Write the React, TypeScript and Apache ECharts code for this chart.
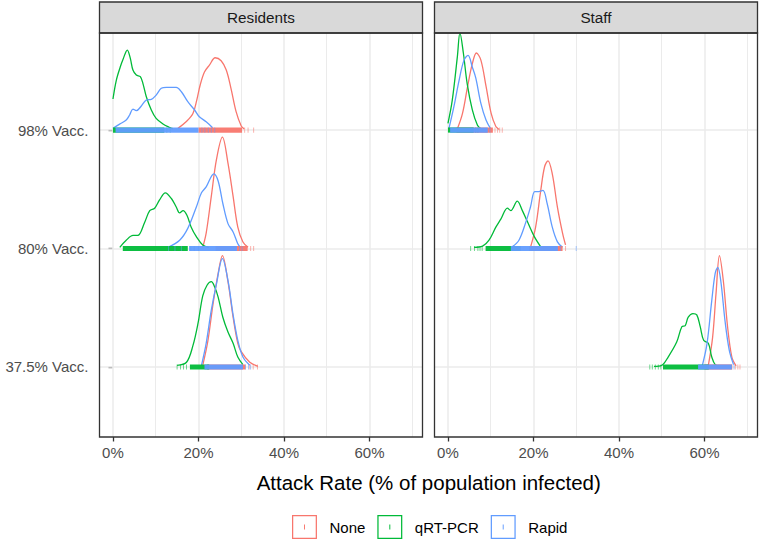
import React, { useEffect, useRef } from "react";
import * as echarts from "echarts";

// ---------- data ----------
const panels = ["Residents", "Staff"];
const categories = ["37.5% Vacc.", "80% Vacc.", "98% Vacc."]; // ridge baselines 1, 2, 3
const groups = ["None", "qRT-PCR", "Rapid"];
const groupColors = ["#F8766D", "#00BA38", "#619CFF"];
const xTickValues = [0, 20, 40, 60];
const xMinorValues = [10, 30, 50, 70];
const axisTitle = "Attack Rate (% of population infected)";

// density outlines: [attack rate %, ridge height (1 = spacing between ridges)]
const res375None = [[21, 0.014], [22.2, 0.22], [23.4, 0.53], [24.6, 0.79], [25.6, 0.94], [26.9, 0.72], [28.1, 0.42], [29.2, 0.2], [30, 0.13], [32, 0.04], [33.9, 0.005]];
const res375Pcr = [[15, 0.014], [17.2, 0.04], [18.7, 0.18], [19.9, 0.37], [21, 0.6], [22, 0.69], [23, 0.72], [23.8, 0.675], [24.6, 0.59], [25.7, 0.42], [26.9, 0.295], [28.1, 0.2], [29.2, 0.084], [30.4, 0.02]];
const res375Rapid = [[20.7, 0.014], [21.8, 0.2], [23, 0.48], [24.2, 0.7], [25.6, 0.915], [26.9, 0.73], [28.1, 0.44], [29.2, 0.225], [30.4, 0.084], [32, 0.014]];
const res80None = [[21, 0.01], [21.8, 0.13], [23, 0.44], [24.2, 0.75], [25.6, 0.94], [26.9, 0.72], [28.1, 0.44], [29.2, 0.18], [30.4, 0.055], [31.6, 0.01]];
const res80Pcr = [[1.6, 0.01], [3.1, 0.07], [4.7, 0.11], [5.8, 0.11], [7.4, 0.22], [8.6, 0.32], [9.75, 0.34], [10.9, 0.41], [12.25, 0.47], [13.7, 0.42], [14.8, 0.35], [15.6, 0.3], [16.4, 0.32], [17.3, 0.28], [18.3, 0.18], [19.5, 0.1], [21, 0.03], [22.4, 0.01]];
const res80Rapid = [[12.9, 0.01], [15.6, 0.07], [17.5, 0.17], [19.5, 0.35], [20.7, 0.47], [21.8, 0.52], [23.6, 0.63], [24.6, 0.57], [25.7, 0.38], [26.9, 0.21], [28.1, 0.14], [29.2, 0.04], [29.8, 0.01]];
const res98None = [[15.2, 0.014], [17.1, 0.07], [18.7, 0.14], [19.6, 0.253], [20.4, 0.38], [21.4, 0.49], [22.6, 0.55], [23.9, 0.61], [25.3, 0.585], [26.5, 0.506], [27.6, 0.352], [28.8, 0.155], [30, 0.034], [30.7, 0.01]];
const res98Pcr = [[0, 0.262], [0.78, 0.42], [1.72, 0.534], [2.34, 0.596], [3.36, 0.675], [4.06, 0.605], [4.67, 0.506], [5.46, 0.464], [6.4, 0.45], [7, 0.394], [7.8, 0.281], [8.97, 0.169], [10.1, 0.098], [11.7, 0.051], [13.2, 0.023], [14, 0.011]];
const res98Rapid = [[0, 0.014], [1.56, 0.05], [3.1, 0.084], [3.9, 0.127], [4.67, 0.177], [5.46, 0.163], [6.63, 0.203], [7.8, 0.253], [8.97, 0.259], [10.1, 0.295], [11.3, 0.352], [12.5, 0.36], [14.8, 0.36], [16, 0.323], [17.5, 0.239], [19.1, 0.169], [20.2, 0.112], [21.8, 0.07], [23.3, 0.02]];

const stf375None = [[60.9, 0.014], [61.9, 0.25], [62.7, 0.62], [63.5, 0.94], [64.4, 0.73], [65.4, 0.34], [66.4, 0.084], [67.4, 0.01]];
const stf375Pcr = [[48.2, 0.005], [50, 0.014], [51.5, 0.084], [53.5, 0.21], [54.7, 0.34], [55.5, 0.35], [56.2, 0.42], [57.3, 0.45], [58.2, 0.44], [59, 0.34], [59.8, 0.225], [60.9, 0.2], [61.7, 0.084], [62.5, 0.02], [63.5, 0.01]];
const stf375Rapid = [[59.5, 0.014], [60.6, 0.2], [61.7, 0.56], [62.5, 0.79], [63.1, 0.84], [63.8, 0.73], [64.8, 0.39], [65.8, 0.14], [66.8, 0.02]];
const stf80None = [[19.3, 0.01], [20.5, 0.18], [21.7, 0.49], [22.6, 0.69], [23.4, 0.74], [24.4, 0.63], [25.6, 0.35], [26.8, 0.13], [27.5, 0.03]];
const stf80Pcr = [[6.1, 0.01], [8.1, 0.02], [9.6, 0.07], [11.2, 0.18], [12.4, 0.25], [13.9, 0.34], [14.7, 0.32], [16.2, 0.4], [17.4, 0.32], [18.6, 0.225], [20.2, 0.1], [21.7, 0.014]];
const stf80Rapid = [[15, 0.014], [16.6, 0.07], [18.1, 0.21], [19.3, 0.35], [20.3, 0.48], [21.2, 0.48], [22.2, 0.49], [23.2, 0.38], [24.4, 0.18], [25.6, 0.056], [26.8, 0.01]];
const stf98None = [[2.2, 0.01], [3.4, 0.14], [4.6, 0.37], [5.7, 0.56], [6.65, 0.65], [7.7, 0.59], [8.9, 0.37], [10.1, 0.14], [11.2, 0.03], [12, 0.005]];
const stf98Pcr = [[0, 0.056], [1, 0.25], [2.2, 0.62], [2.8, 0.82], [3.6, 0.65], [4.5, 0.39], [5.7, 0.17], [6.9, 0.04], [7.7, 0.01]];
const stf98Rapid = [[0.2, 0.01], [1.4, 0.2], [2.6, 0.42], [3.75, 0.59], [4.7, 0.63], [5.7, 0.53], [6.5, 0.44], [7.7, 0.225], [8.9, 0.084], [10, 0.01]];

// rug marks: [from %, to %] (single marks have from == to)
const res375NoneRug = [[22, 31], [32, 32], [32.8, 32.8], [33.8, 33.8]];
const res375PcrRug = [[18, 22.5], [15, 15], [15.8, 15.8], [16.5, 16.5], [17.2, 17.2]];
const res375RapidRug = [[21.4, 30.4], [31, 31], [31.7, 31.7], [32.2, 32.2]];
const res80NoneRug = [[24, 31.5], [32.2, 32.2], [32.9, 32.9]];
const res80PcrRug = [[2.3, 17.5], [18.2, 18.2], [19, 19], [20, 20]];
const res80RapidRug = [[17.8, 29], [13, 13], [14.5, 14.5], [16, 16], [29.6, 29.6], [30.2, 30.2]];
const res98NoneRug = [[20, 30.2], [30.8, 30.8], [31.6, 31.6], [32.9, 32.9]];
const res98PcrRug = [[0, 12], [12.6, 12.6], [13.4, 13.4]];
const res98RapidRug = [[0.6, 20], [20.8, 20.8], [21.5, 21.5], [22.3, 22.3], [23, 23], [23.8, 23.8]];

const stf375NoneRug = [[60, 66.5], [67.2, 67.2], [67.8, 67.8], [68.3, 68.3]];
const stf375PcrRug = [[50.3, 61], [47.2, 47.2], [47.8, 47.8], [48.5, 48.5], [49.2, 49.2], [49.8, 49.8]];
const stf375RapidRug = [[58.5, 66.4], [66.9, 66.9]];
const stf80NoneRug = [[19, 26.8], [27.5, 27.5]];
const stf80PcrRug = [[8.8, 17], [5.3, 5.3], [6.2, 6.2], [7, 7], [7.5, 7.5], [8, 8]];
const stf80RapidRug = [[14.7, 25.7], [26.3, 26.3], [30, 30]];
const stf98NoneRug = [[2, 10.5], [11, 11], [11.6, 11.6], [12.1, 12.1], [12.7, 12.7]];
const stf98PcrRug = [[0, 6], [6.5, 6.5], [7, 7]];
const stf98RapidRug = [[0.5, 9.3], [9.8, 9.8]];

// [panel][group][category]
const curves = [
  [[res375None, res80None, res98None], [res375Pcr, res80Pcr, res98Pcr], [res375Rapid, res80Rapid, res98Rapid]],
  [[stf375None, stf80None, stf98None], [stf375Pcr, stf80Pcr, stf98Pcr], [stf375Rapid, stf80Rapid, stf98Rapid]],
];
const rugs = [
  [[res375NoneRug, res80NoneRug, res98NoneRug], [res375PcrRug, res80PcrRug, res98PcrRug], [res375RapidRug, res80RapidRug, res98RapidRug]],
  [[stf375NoneRug, stf80NoneRug, stf98NoneRug], [stf375PcrRug, stf80PcrRug, stf98PcrRug], [stf375RapidRug, stf80RapidRug, stf98RapidRug]],
];

// ---------- layout ----------
const FONT = "'Liberation Sans', Arial, Helvetica, sans-serif";
const W = 761;
const H = 547;
const gridTop = 33;
const gridHeight = 404;
const gridWidth = 323;
const gridLefts = [99.5, 434.5];
const stripTop = 2;
const X_MIN = -3.15;
const X_MAX = 72.4;
const Y_MIN = 0.409;
const Y_MAX = 3.819;

function buildOption() {
  const series: any[] = [];

  // rug series first (legend picks the first series of each name)
  panels.forEach((_, pi) => {
    groups.forEach((g, gi) => {
      const rows: number[][] = [];
      categories.forEach((_c, ci) => {
        rugs[pi][gi][ci].forEach(([a, b]) => rows.push([a, b, ci + 1]));
      });
      const color = groupColors[gi];
      series.push({
        type: "custom",
        name: g,
        xAxisIndex: pi,
        yAxisIndex: pi,
        z: 4,
        silent: true,
        itemStyle: { color },
        encode: { x: [0, 1], y: 2 },
        data: rows,
        renderItem: (_params: any, api: any) => {
          const from = api.value(0);
          const to = api.value(1);
          const base = api.value(2);
          const p1 = api.coord([from, base]);
          const p2 = api.coord([to, base]);
          const single = to - from < 0.01;
          return {
            type: "rect",
            shape: {
              x: single ? p1[0] - 0.5 : p1[0],
              y: p1[1] - 2.6,
              width: Math.max(1, p2[0] - p1[0]),
              height: 5.2,
            },
            style: { fill: color, opacity: single ? 0.55 : 0.95 },
          };
        },
      });
    });
  });

  // density outlines
  panels.forEach((_, pi) => {
    groups.forEach((g, gi) => {
      categories.forEach((_c, ci) => {
        series.push({
          type: "line",
          name: g,
          xAxisIndex: pi,
          yAxisIndex: pi,
          z: 3,
          silent: true,
          showSymbol: false,
          smooth: 0.35,
          color: groupColors[gi],
          lineStyle: { color: groupColors[gi], width: 1.3 },
          data: curves[pi][gi][ci].map(([x, h]) => [x, ci + 1 + h]),
        });
      });
    });
  });

  // grid lines through the axes' own scales
  panels.forEach((_, pi) => {
    series.push({
      type: "line",
      name: "",
      xAxisIndex: pi,
      yAxisIndex: pi,
      data: [],
      silent: true,
      markLine: {
        silent: true,
        symbol: "none",
        z: 1,
        animation: false,
        label: { show: false },
        data: [
          ...xTickValues.map((v) => ({ xAxis: v, lineStyle: { color: "#EBEBEB", width: 1.5, type: "solid" } })),
          ...xMinorValues.map((v) => ({ xAxis: v, lineStyle: { color: "#EBEBEB", width: 1, type: "solid" } })),
          ...categories.map((_c, ci) => ({ yAxis: ci + 1, lineStyle: { color: "#EBEBEB", width: 1.5, type: "solid" } })),
        ],
      },
    });
  });

  const grids = panels.map((_, pi) => ({
    left: gridLefts[pi],
    top: gridTop,
    width: gridWidth,
    height: gridHeight,
    show: true,
    backgroundColor: "#FFFFFF",
    borderWidth: 0,
    containLabel: false,
  }));

  const xAxes = panels.map((_, pi) => ({
    type: "value",
    gridIndex: pi,
    min: X_MIN,
    max: X_MAX,
    axisLine: { show: false },
    splitLine: { show: false },
    minorSplitLine: { show: false },
    axisTick: {
      show: true,
      customValues: xTickValues,
      length: 4.5,
      lineStyle: { color: "#333333", width: 1.3 },
    },
    axisLabel: {
      show: true,
      customValues: xTickValues,
      formatter: (v: number) => `${v}%`,
      margin: 8,
      color: "#4D4D4D",
      fontSize: 15,
      fontFamily: FONT,
    },
  }));

  const yAxes = panels.map((_, pi) => ({
    type: "value",
    gridIndex: pi,
    min: Y_MIN,
    max: Y_MAX,
    axisLine: { show: false },
    splitLine: { show: false },
    axisTick: {
      show: pi === 0,
      customValues: [1, 2, 3],
      length: 4.5,
      lineStyle: { color: "#333333", width: 1.3 },
    },
    axisLabel: {
      show: pi === 0,
      customValues: [1, 2, 3],
      formatter: (v: number) => categories[Math.round(v) - 1] ?? "",
      margin: 11,
      color: "#4D4D4D",
      fontSize: 15,
      fontFamily: FONT,
    },
  }));

  const graphics: any[] = [];
  panels.forEach((p, pi) => {
    const left = gridLefts[pi];
    graphics.push({
      type: "rect",
      z: 100,
      silent: true,
      shape: { x: left, y: stripTop, width: gridWidth, height: gridTop - stripTop },
      style: { fill: "#D9D9D9", stroke: "#333333", lineWidth: 1.3 },
    });
    graphics.push({
      type: "text",
      z: 101,
      silent: true,
      x: left + gridWidth / 2,
      y: stripTop + (gridTop - stripTop) / 2,
      style: {
        text: p,
        fill: "#1A1A1A",
        font: `15.3px ${FONT}`,
        textAlign: "center",
        textVerticalAlign: "middle",
      },
    });
    graphics.push({
      type: "rect",
      z: 100,
      silent: true,
      shape: { x: left, y: gridTop, width: gridWidth, height: gridHeight },
      style: { fill: "none", stroke: "#333333", lineWidth: 1.3 },
    });
  });
  graphics.push({
    type: "text",
    z: 101,
    silent: true,
    x: 428.7,
    y: 482,
    style: {
      text: axisTitle,
      fill: "#000000",
      font: `20.5px ${FONT}`,
      textAlign: "center",
      textVerticalAlign: "middle",
    },
  });

  const iconPath = "path://M0,0H26V25H0Z M1.3,1.3V23.7H24.7V1.3Z M12.5,10H13.5V15H12.5Z";

  return {
    animation: false,
    backgroundColor: "#FFFFFF",
    textStyle: { fontFamily: FONT },
    grid: grids,
    xAxis: xAxes,
    yAxis: yAxes,
    legend: {
      data: groups.map((g) => ({ name: g, icon: iconPath })),
      left: 292,
      top: 515,
      padding: 0,
      orient: "horizontal",
      itemWidth: 26,
      itemHeight: 24,
      itemGap: 12,
      selectedMode: false,
      textStyle: { fontSize: 15, color: "#000000", fontFamily: FONT, padding: [0, 0, 0, 7] },
    },
    graphic: graphics,
    series,
  };
}

export default function App() {
  const ref = useRef<HTMLDivElement | null>(null);
  useEffect(() => {
    document.body.style.margin = "0";
    if (!ref.current) return;
    const chart = echarts.init(ref.current, undefined, { renderer: "svg" });
    chart.setOption(buildOption() as any);
    return () => chart.dispose();
  }, []);
  return (
    <div
      ref={ref}
      style={{ position: "absolute", left: 0, top: 0, width: W, height: H }}
    />
  );
}
